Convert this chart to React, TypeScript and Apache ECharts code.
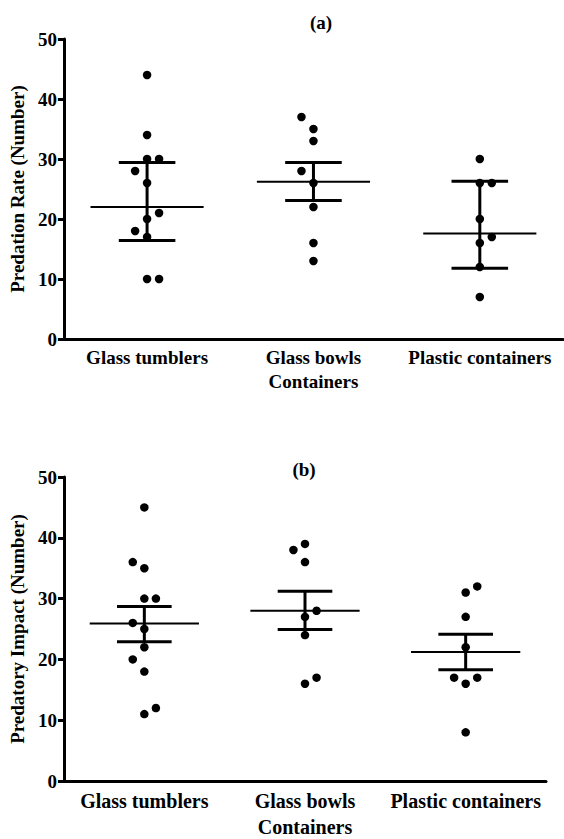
import React, { useEffect, useRef } from "react";
import * as echarts from "echarts";

const categories = ["Glass tumblers", "Glass bowls", "Plastic containers"];
const yTicksMax = 50;

// Panel (a): Predation Rate — values and horizontal lanes (-1 left, 0 centre, 1 right)
const aTumblers = [44, 34, 30, 30, 28, 26, 21, 20, 18, 17, 10, 10];
const aTumblersLane = [0, 0, 0, 1, -1, 0, 1, 0, -1, 0, 0, 1];
const aBowls = [37, 35, 33, 28, 26, 22, 16, 13];
const aBowlsLane = [-1, 0, 0, -1, 0, 0, 0, 0];
const aPlastic = [30, 26, 26, 20, 17, 16, 12, 7];
const aPlasticLane = [0, 0, 1, 0, 1, 0, 0, 0];
// centre, lower, upper
const aCentre = [22.0, 26.2, 17.6];
const aLower = [16.4, 23.1, 11.8];
const aUpper = [29.4, 29.4, 26.3];

// Panel (b): Predatory Impact
const bTumblers = [45, 36, 35, 30, 30, 26, 25, 22, 20, 18, 12, 11];
const bTumblersLane = [0, -1, 0, 0, 1, -1, 0, 0, -1, 0, 1, 0];
const bBowls = [39, 38, 36, 28, 27, 24, 17, 16];
const bBowlsLane = [0, -1, 0, 1, 0, 0, 1, 0];
const bPlastic = [32, 31, 27, 22, 17, 17, 16, 8];
const bPlasticLane = [1, 0, 0, 0, -1, 1, 0, 0];
const bCentre = [25.9, 28.0, 21.2];
const bLower = [22.9, 24.9, 18.3];
const bUpper = [28.7, 31.2, 24.15];

const FONT = "'Liberation Serif', 'Times New Roman', 'DejaVu Serif', serif";
const LANE = 0.072;
const MEAN_HALF = 0.34;
const CAP_HALF = 0.17;

function points(groups: number[][], lanes: number[][]) {
  const out: number[][] = [];
  groups.forEach((vals, ci) => {
    vals.forEach((v, i) => out.push([ci + lanes[ci][i] * LANE, v]));
  });
  return out;
}

function summary(c: number[], lo: number[], up: number[]) {
  return c.map((v, i) => [i, v, lo[i], up[i]]);
}

const renderErr = (params: any, api: any) => {
  const x = api.value(0);
  const m = api.value(1);
  const lo = api.value(2);
  const up = api.value(3);
  const mL = api.coord([x - MEAN_HALF, m]);
  const mR = api.coord([x + MEAN_HALF, m]);
  const top = api.coord([x, up]);
  const bot = api.coord([x, lo]);
  const tL = api.coord([x - CAP_HALF, up]);
  const tR = api.coord([x + CAP_HALF, up]);
  const bL = api.coord([x - CAP_HALF, lo]);
  const bR = api.coord([x + CAP_HALF, lo]);
  const thick = { stroke: "#000", lineWidth: 3 };
  return {
    type: "group",
    children: [
      { type: "line", shape: { x1: mL[0], y1: mL[1], x2: mR[0], y2: mR[1] }, style: { stroke: "#000", lineWidth: 2 } },
      { type: "line", shape: { x1: top[0], y1: top[1], x2: bot[0], y2: bot[1] }, style: thick },
      { type: "line", shape: { x1: tL[0], y1: tL[1], x2: tR[0], y2: tR[1] }, style: thick },
      { type: "line", shape: { x1: bL[0], y1: bL[1], x2: bR[0], y2: bR[1] }, style: thick },
    ],
  };
};

export default function App() {
  const ref = useRef<HTMLDivElement>(null);
  useEffect(() => {
    if (!ref.current) return;
    const chart = echarts.init(ref.current, null, { renderer: "svg" });
    const txt = { fontFamily: FONT, fontWeight: "bold" as const, color: "#000", fontSize: 19 };
    const catAxis = (gridIndex: number, nameGap: number, margin: number, size: number) => ({
      type: "category",
      gridIndex,
      data: categories,
      name: "Containers",
      nameLocation: "middle",
      nameGap,
      nameTextStyle: { ...txt, fontSize: size },
      axisLine: { onZero: false, lineStyle: { color: "#000", width: 3 } },
      axisTick: { alignWithLabel: true, length: 6, lineStyle: { color: "#000", width: 3 } },
      axisLabel: { ...txt, fontSize: size, margin, interval: 0 },
      splitLine: { show: false },
    });
    const valX = (gridIndex: number) => ({ type: "value", gridIndex, min: -0.5, max: 2.5, show: false });
    const yAxis = (gridIndex: number, name: string, nameGap: number) => ({
      type: "value",
      gridIndex,
      position: "left",
      min: 0,
      max: yTicksMax,
      interval: 10,
      name,
      nameLocation: "middle",
      nameGap,
      nameTextStyle: { ...txt },
      axisLine: { show: true, onZero: false, lineStyle: { color: "#000", width: 3 } },
      axisTick: { show: true, length: 6, lineStyle: { color: "#000", width: 3 } },
      axisLabel: { ...txt, margin: 7 },
      splitLine: { show: false },
    });
    const scatter = (xi: number, yi: number, data: number[][]) => ({
      type: "scatter",
      xAxisIndex: xi,
      yAxisIndex: yi,
      data,
      symbol: "circle",
      symbolSize: 8.5,
      itemStyle: { color: "#000", opacity: 1 },
      z: 3,
    });
    const custom = (xi: number, yi: number, data: number[][]) => ({
      type: "custom",
      xAxisIndex: xi,
      yAxisIndex: yi,
      data,
      encode: { x: 0, y: [1, 2, 3] },
      renderItem: renderErr,
      z: 2,
    });
    chart.setOption({
      animation: false,
      backgroundColor: "#fff",
      title: [
        { text: "(a)", left: 316, top: 8, textAlign: "center", textStyle: { ...txt } },
        { text: "(b)", left: 299, top: 455, textAlign: "center", textStyle: { ...txt } },
      ],
      grid: [
        { left: 61, top: 39, width: 502, height: 300 },
        { left: 64, top: 477, width: 482, height: 304 },
      ],
      xAxis: [catAxis(0, 33, 9, 19), valX(0), catAxis(1, 36, 10, 20), valX(1)],
      yAxis: [yAxis(0, "Predation Rate (Number)", 34), yAxis(1, "Predatory Impact (Number)", 36)],
      series: [
        custom(1, 0, summary(aCentre, aLower, aUpper)),
        scatter(1, 0, points([aTumblers, aBowls, aPlastic], [aTumblersLane, aBowlsLane, aPlasticLane])),
        custom(3, 1, summary(bCentre, bLower, bUpper)),
        scatter(3, 1, points([bTumblers, bBowls, bPlastic], [bTumblersLane, bBowlsLane, bPlasticLane])),
      ],
    });
    return () => chart.dispose();
  }, []);
  return (
    <div
      ref={ref}
      style={{ position: "absolute", left: 0, top: 0, width: 564, height: 839, background: "#fff" }}
    />
  );
}
